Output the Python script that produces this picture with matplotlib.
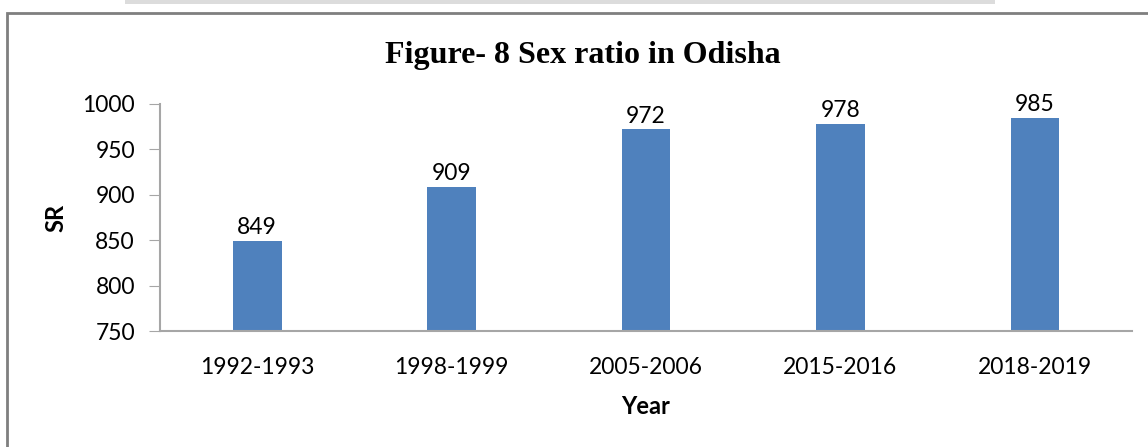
import matplotlib.pyplot as plt
from matplotlib.patches import Rectangle

# data
years = ['1992-1993', '1998-1999', '2005-2006', '2015-2016', '2018-2019']
sex_ratio = [849, 909, 972, 978, 985]

plt.rcParams['font.family'] = ['Lato', 'DejaVu Sans']

fig = plt.figure(figsize=(11.48, 4.47), dpi=100)
W, H = 1148, 447

# outer chart border and shadow strip at top
fig.patches.append(Rectangle((7 / W, -0.1), 1.2, (H - 13) / H + 0.1, transform=fig.transFigure,
                             fill=False, edgecolor='#7f7f7f', linewidth=2))
fig.patches.append(Rectangle((125 / W, (H - 4) / H), 870 / W, 4 / H, transform=fig.transFigure,
                             facecolor='#dcdcdc', edgecolor='none'))

ax = fig.add_axes([160 / W, (H - 331) / H, (1132 - 160) / W, (331 - 104) / H])
x = range(len(years))
bars = ax.bar(x, sex_ratio, width=0.25, color='#4f81bd')
for xi, v in zip(x, sex_ratio):
    ax.text(xi, v + 3, str(v), ha='center', va='bottom', fontsize=16.5)

ax.set_ylim(750, 1000)
ax.set_yticks(range(750, 1001, 50))
ax.set_xlim(-0.5, 4.5)
ax.set_xticks(list(x))
ax.set_xticklabels(years)
ax.tick_params(axis='x', length=0, pad=19, labelsize=16.5)
ax.tick_params(axis='y', length=8, color='#a6a6a6', pad=10, labelsize=16.5)
for s in ['top', 'right']:
    ax.spines[s].set_visible(False)
for s in ['left', 'bottom']:
    ax.spines[s].set_color('#a6a6a6')
    ax.spines[s].set_linewidth(1.5)

ax.set_ylabel('SR', fontsize=17, fontweight='bold', labelpad=11)
ax.set_xlabel('Year', fontsize=17, fontweight='bold', labelpad=12)
fig.text(583 / W, (H - 55) / H, 'Figure- 8 Sex ratio in Odisha', ha='center', va='center',
         fontsize=23, fontweight='bold', family='Liberation Serif')

fig.savefig('out.png', dpi=100)
